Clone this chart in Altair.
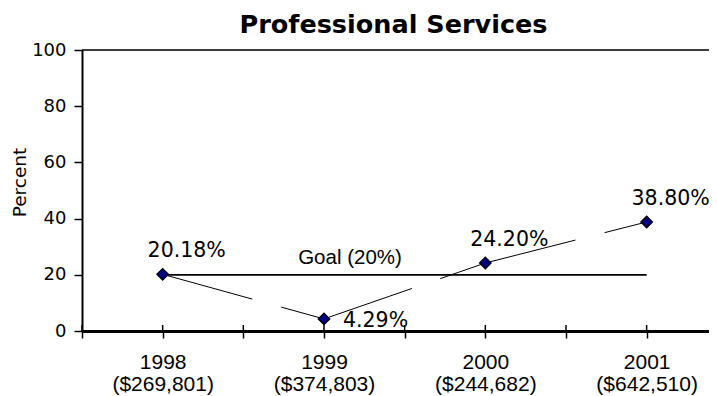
import altair as alt
import pandas as pd

# ---- data ----
years = ["1998", "1999", "2000", "2001"]
amounts = ["($269,801)", "($374,803)", "($244,682)", "($642,510)"]
values = [20.18, 4.29, 24.20, 38.80]
goal = 20
goal_label = "Goal (20%)"
y_ticks = [0, 20, 40, 60, 80, 100]

n = len(years)
idx = list(range(1, n + 1))

pts = pd.DataFrame({"i": idx, "year": years, "value": values})
pts["label"] = [f"{v:.2f}%" for v in values]

seg_rows = []
for k in range(n - 1):
    seg_rows.append({"seg": k, "i": idx[k], "value": values[k]})
    seg_rows.append({"seg": k, "i": idx[k + 1], "value": values[k + 1]})
segs = pd.DataFrame(seg_rows)

goal_df = pd.DataFrame({"i": idx, "year": years, "value": [goal] * n, "label": [goal_label] * n})
tick_df = pd.DataFrame({"i": [k / 2 for k in range(1, 2 * n + 1)]})

W, H = 627, 281
band = 161.33
xdom = [0.5, 0.5 + W / band]

label_expr = " : ".join(
    f"datum.value == {i} ? ['{y}', '{a}']" for i, y, a in zip(idx, years, amounts)
) + " : ''"

xscale = alt.Scale(domain=xdom, nice=False, zero=False)
yscale = alt.Scale(domain=[0, 100], nice=False)

x_axis = alt.Axis(
    values=[k / 2 for k in range(1, 2 * n + 1)],
    labelExpr=label_expr,
    title=None,
    grid=False,
    domainColor="black",
    domainWidth=3,
    tickColor="black",
    tickWidth=1.5,
    tickSize=7,
    labelFont="Liberation Sans",
    labelFontSize=21,
    labelColor="black",
    labelPadding=13,
    labelLineHeight=22,
    labelBaseline="top",
    labelOverlap=False,
)
y_axis = alt.Axis(
    values=y_ticks,
    title="Percent",
    titleFont="DejaVu Sans",
    titleFontSize=18.5,
    titleFontWeight="normal",
    titleColor="black",
    titleAngle=270,
    titleBaseline="alphabetic",
    titleAlign="center",
    titleX=-57,
    titleY=132,
    grid=False,
    domainColor="black",
    domainWidth=2,
    tickColor="black",
    tickWidth=1.5,
    tickSize=8,
    labelFont="DejaVu Sans",
    labelFontSize=18,
    labelColor="black",
    labelPadding=8,
)

base_y = alt.Y("value:Q", scale=yscale, axis=y_axis)

goal_line = alt.Chart(goal_df).mark_line(color="black", strokeWidth=1.8).encode(
    x=alt.X("i:Q", scale=xscale, axis=x_axis), y=base_y
)

val_line = alt.Chart(segs).mark_line(
    color="black", strokeWidth=1, strokeDash=[93, 30, 300]
).encode(x=alt.X("i:Q", scale=xscale), y=alt.Y("value:Q", scale=yscale), detail="seg:N")

points = alt.Chart(pts).mark_point(
    shape="diamond", filled=True, fill="#000080", stroke="black",
    strokeWidth=1.2, size=135, opacity=1
).encode(x=alt.X("i:Q", scale=xscale), y=alt.Y("value:Q", scale=yscale))

lab_above = alt.Chart(pts).transform_filter(alt.datum.value >= goal - 5).mark_text(
    font="DejaVu Sans", fontSize=20.5, color="black", align="center",
    baseline="alphabetic", dx=24, dy=-17
).encode(x=alt.X("i:Q", scale=xscale), y=alt.Y("value:Q", scale=yscale), text="label:N")

lab_below = alt.Chart(pts).transform_filter(alt.datum.value < goal - 5).mark_text(
    font="DejaVu Sans", fontSize=20.5, color="black", align="left",
    baseline="alphabetic", dx=19, dy=8
).encode(x=alt.X("i:Q", scale=xscale), y=alt.Y("value:Q", scale=yscale), text="label:N")

goal_text = alt.Chart(goal_df).transform_filter(alt.datum.year == years[1]).mark_text(
    font="Liberation Sans", fontSize=20.5, color="black", align="center",
    baseline="alphabetic", dx=26, dy=-11
).encode(x=alt.X("i:Q", scale=xscale), y=alt.Y("value:Q", scale=yscale), text="label:N")

up_ticks = alt.Chart(tick_df).mark_rule(color="black", strokeWidth=1.5).encode(
    x=alt.X("i:Q", scale=xscale), y=alt.value(H - 6), y2=alt.value(H)
)

top_border = alt.Chart(pd.DataFrame({"value": [y_ticks[-1]]})).mark_rule(
    color="black", strokeWidth=1.6
).encode(y=alt.Y("value:Q", scale=yscale), x=alt.value(0), x2=alt.value(W))

chart = alt.layer(
    goal_line, val_line, top_border, up_ticks, points, lab_above, lab_below, goal_text
).properties(
    width=W,
    height=H,
    title=alt.TitleParams(
        "Professional Services",
        font="DejaVu Sans",
        fontSize=25.5,
        fontWeight="bold",
        color="black",
        anchor="middle",
        frame="group",
        dx=-2,
        offset=3,
    ),
    autosize=alt.AutoSizeParams(type="none"),
    padding={"left": 74, "top": 42, "right": 0, "bottom": 65},
).configure_view(stroke=None).configure(background="white")

chart.save("out.html", embed_options={"renderer": "svg", "actions": False})
